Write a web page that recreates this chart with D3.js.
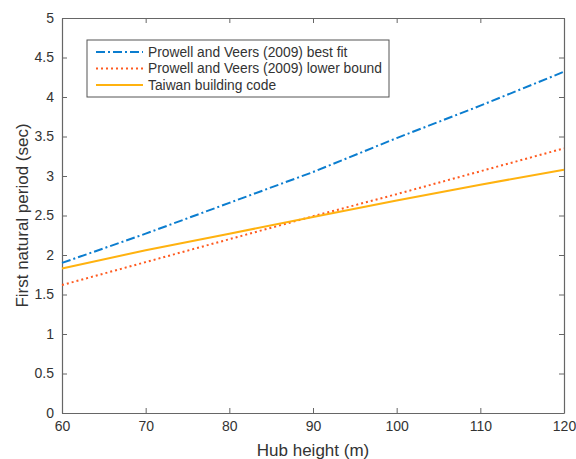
<!DOCTYPE html>
<html>
<head>
<meta charset="utf-8">
<script src="https://cdn.jsdelivr.net/npm/d3@7"></script>
<style>
  body { margin: 0; background: #fff; }
  svg text { font-family: "Liberation Sans", Arial, sans-serif; fill: #333; }
  .axis path, .axis line { stroke: #666; }
</style>
</head>
<body>
<div id="chart"></div>
<script>
const hubHeights = [60, 70, 80, 90, 100, 110, 120];
const bestFit = [1.90, 2.27, 2.66, 3.05, 3.48, 3.89, 4.32];
const lowerBound = [1.62, 1.91, 2.20, 2.49, 2.77, 3.06, 3.35];
const taiwanCode = [1.83, 2.06, 2.27, 2.48, 2.69, 2.89, 3.08];

const xTicks = [60, 70, 80, 90, 100, 110, 120];
const yTicks = [0, 0.5, 1, 1.5, 2, 2.5, 3, 3.5, 4, 4.5, 5];

const series = [
  { name: "Prowell and Veers (2009) best fit", values: bestFit, color: "#0b7dcf", dash: "9,3,2,3" },
  { name: "Prowell and Veers (2009) lower bound", values: lowerBound, color: "#ff5a1f", dash: "2,3" },
  { name: "Taiwan building code", values: taiwanCode, color: "#ffb20f", dash: null }
];

const margin = { top: 18, right: 12, bottom: 46, left: 62 };
const width = 576 - margin.left - margin.right;
const height = 459 - margin.top - margin.bottom;

const svg = d3.select("#chart")
  .append("svg")
  .attr("width", 576)
  .attr("height", 459)
  .append("g")
  .attr("transform", `translate(${margin.left},${margin.top})`);

const x = d3.scaleLinear().domain([60, 120]).range([0, width]);
const y = d3.scaleLinear().domain([0, 5]).range([height, 0]);

const fmt = d => String(d);

// axes, ticks pointing inward (box on)
svg.append("g")
  .attr("class", "axis")
  .attr("transform", `translate(0,${height})`)
  .call(d3.axisBottom(x).tickValues(xTicks).tickFormat(fmt).tickSizeInner(-5).tickSizeOuter(0).tickPadding(8))
  .call(g => g.selectAll("text").attr("font-size", 14));

svg.append("g")
  .attr("class", "axis")
  .call(d3.axisTop(x).tickValues(xTicks).tickFormat("").tickSizeInner(-5).tickSizeOuter(0));

svg.append("g")
  .attr("class", "axis")
  .call(d3.axisLeft(y).tickValues(yTicks).tickFormat(fmt).tickSizeInner(-5).tickSizeOuter(0).tickPadding(8))
  .call(g => g.selectAll("text").attr("font-size", 14));

svg.append("g")
  .attr("class", "axis")
  .attr("transform", `translate(${width},0)`)
  .call(d3.axisRight(y).tickValues(yTicks).tickFormat("").tickSizeInner(-5).tickSizeOuter(0));

svg.selectAll(".axis .domain").attr("stroke", "#666").attr("stroke-width", 1.2);

// lines
const line = d3.line()
  .x((d, i) => x(hubHeights[i]))
  .y(d => y(d));

svg.selectAll(".series")
  .data(series)
  .join("path")
  .attr("class", "series")
  .attr("fill", "none")
  .attr("stroke", d => d.color)
  .attr("stroke-width", 2)
  .attr("stroke-dasharray", d => d.dash)
  .attr("d", d => line(d.values));

// axis labels
svg.append("text")
  .attr("x", width / 2)
  .attr("y", height + 43)
  .attr("text-anchor", "middle")
  .attr("font-size", 17)
  .text("Hub height (m)");

svg.append("text")
  .attr("transform", "rotate(-90)")
  .attr("x", -height / 2)
  .attr("y", -34)
  .attr("text-anchor", "middle")
  .attr("font-size", 17)
  .text("First natural period (sec)");

// legend
const legend = svg.append("g")
  .attr("transform", `translate(${87 - margin.left},${40 - margin.top})`);

legend.append("rect")
  .attr("width", 302)
  .attr("height", 57)
  .attr("fill", "#fff")
  .attr("stroke", "#555")
  .attr("stroke-width", 1);

const items = legend.selectAll(".item")
  .data(series)
  .join("g")
  .attr("class", "item")
  .attr("transform", (d, i) => `translate(0,${12 + i * 16.5})`);

items.append("line")
  .attr("x1", 9)
  .attr("x2", 56)
  .attr("stroke", d => d.color)
  .attr("stroke-width", 2)
  .attr("stroke-dasharray", d => d.dash);

items.append("text")
  .attr("x", 61)
  .attr("dy", "0.35em")
  .attr("font-size", 13.8)
  .text(d => d.name);
</script>
</body>
</html>
